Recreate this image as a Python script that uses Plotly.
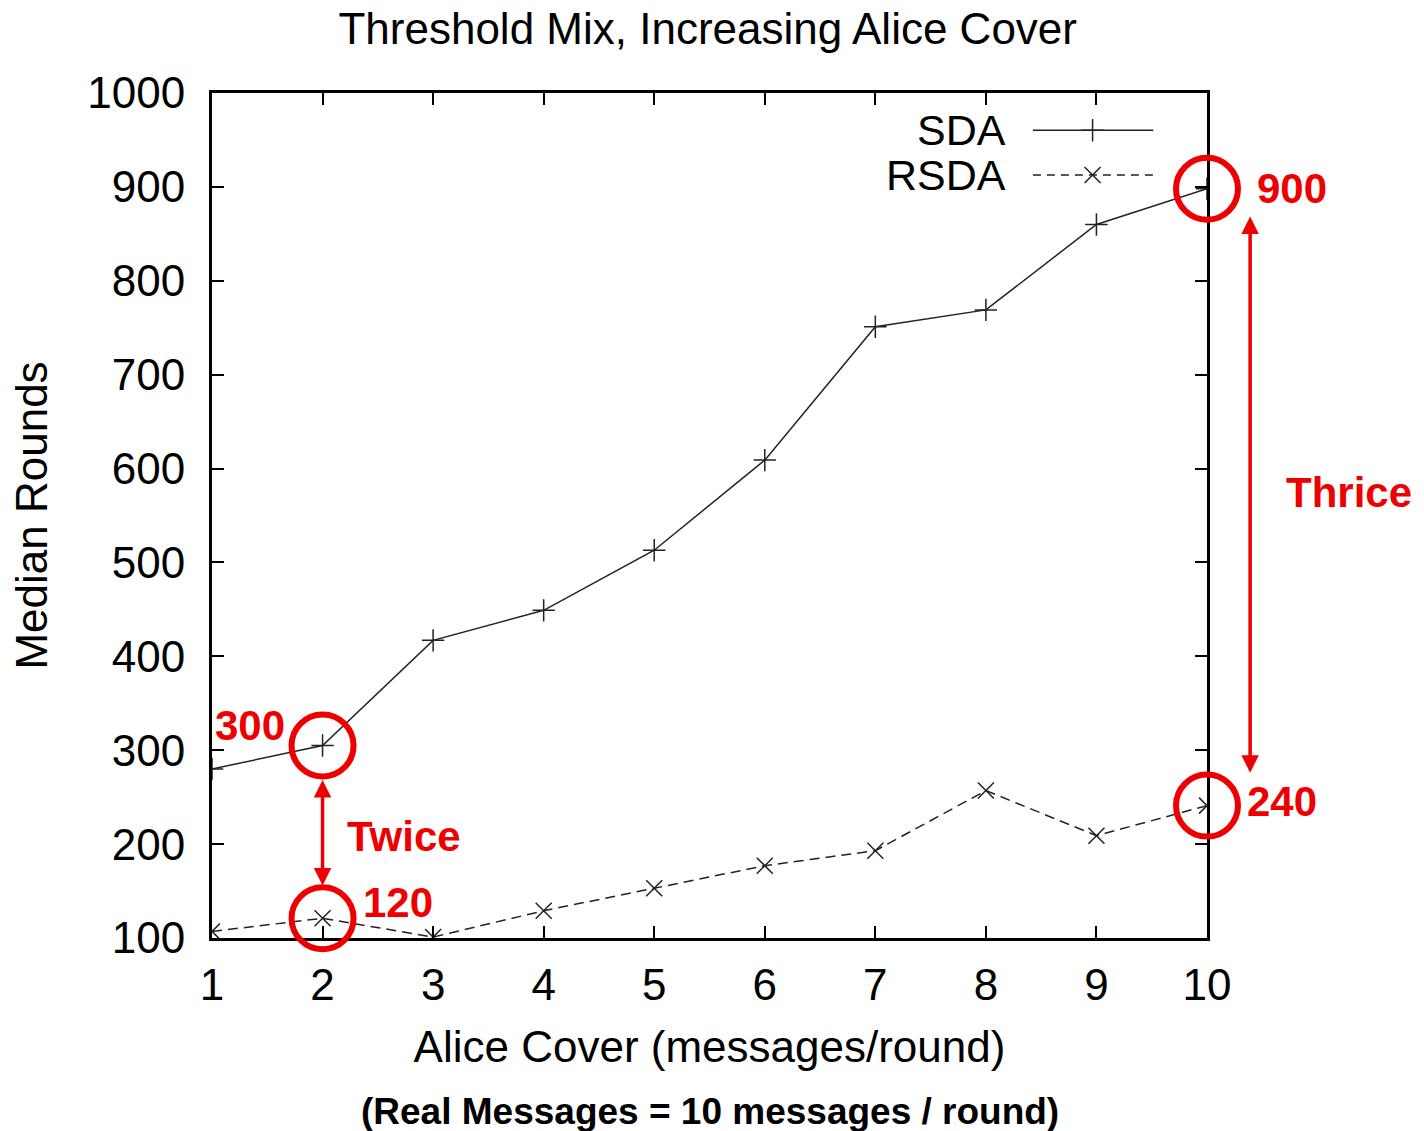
import plotly.graph_objects as go

# ---- data ----
cover = [1, 2, 3, 4, 5, 6, 7, 8, 9, 10]
sda = [280, 305, 417, 449, 513, 609, 751, 769, 860, 898]
rsda = [107, 121, 101, 129, 153, 177, 193, 257, 209, 241]
x_ticks = [1, 2, 3, 4, 5, 6, 7, 8, 9, 10]
y_ticks = [100, 200, 300, 400, 500, 600, 700, 800, 900, 1000]
X_RANGE = [1, 10]
Y_RANGE = [100, 1000]

# highlighted points (x, y, label)
hl_x = [2, 2, 10, 10]
hl_y = [305, 121, 898, 241]
hl_labels = ["300", "120", "900", "240"]

RED = "#ee0000"
INK = "#222222"
FONT = "Liberation Sans, Arial, sans-serif"
FS = 44
RFS = 42


def px(v):
    return (v - X_RANGE[0]) / (X_RANGE[1] - X_RANGE[0])


def py(v):
    return (v - Y_RANGE[0]) / (Y_RANGE[1] - Y_RANGE[0])


fig = go.Figure()

fig.add_trace(go.Scatter(
    x=cover, y=sda, mode="lines+markers", name="SDA",
    line=dict(color=INK, width=1.5),
    marker=dict(symbol="cross-thin-open", size=16, color=INK, line=dict(color=INK, width=1.5)),
    showlegend=False,
))
fig.add_trace(go.Scatter(
    x=cover, y=rsda, mode="lines+markers", name="RSDA",
    line=dict(color=INK, width=1.5, dash="10px,6px"),
    marker=dict(symbol="x-thin-open", size=16, color=INK, line=dict(color=INK, width=1.5)),
    showlegend=False,
))

# gnuplot-style legend (text left, sample right) on an overlay axis [0,1]
leg_names = ["SDA", "RSDA"]
leg_y = [0.956, 0.903]
leg_dash = ["solid", "8px,6px"]
leg_sym = ["cross-thin-open", "x-thin-open"]
for name, ly, dsh, sym in zip(leg_names, leg_y, leg_dash, leg_sym):
    fig.add_trace(go.Scatter(
        x=[0.825, 0.946], y=[ly, ly], mode="lines", xaxis="x2", yaxis="y2",
        line=dict(color=INK, width=1.5, dash=dsh), showlegend=False, hoverinfo="skip",
    ))
    fig.add_trace(go.Scatter(
        x=[0.885], y=[ly], mode="markers", xaxis="x2", yaxis="y2",
        marker=dict(symbol=sym, size=16, color=INK, line=dict(color=INK, width=1.5)),
        showlegend=False, hoverinfo="skip",
    ))
    fig.add_annotation(x=0.800, y=ly, xref="x2", yref="y2", text=name, showarrow=False,
                       xanchor="right", yanchor="middle",
                       font=dict(family=FONT, size=FS - 1, color="#000"))

# red highlight circles (paper refs so they are not clipped at the plot edge)
for hx, hy in zip(hl_x, hl_y):
    fig.add_shape(type="circle", xref="paper", yref="paper",
                  xsizemode="pixel", ysizemode="pixel",
                  xanchor=px(hx), yanchor=py(hy), x0=-31, x1=31, y0=-31, y1=31,
                  line=dict(color=RED, width=6), layer="above")

# red value labels
lab_pos = [(-36, 20, "right"), (38, 16, "left"), (48, 0, "left"), (38, 4, "left")]
for hx, hy, txt, (dx, dy, anc) in zip(hl_x, hl_y, hl_labels, lab_pos):
    fig.add_annotation(x=px(hx), y=py(hy), xref="paper", yref="paper",
                       text=f"<b>{txt}</b>", showarrow=False,
                       xshift=dx, yshift=dy, xanchor=anc, yanchor="middle",
                       font=dict(family=FONT, size=RFS, color=RED))

# double-headed arrows (x, top value, bottom value)
arrows = [(2, 270, 156), (10.39, 870, 276)]
for ax_x, y_top, y_bot in arrows:
    fig.add_annotation(x=px(ax_x), y=y_bot, xref="paper", yref="y",
                       ax=0, ay=y_top, axref="pixel", ayref="y",
                       text="", showarrow=True,
                       arrowhead=2, startarrowhead=2, arrowside="end+start",
                       arrowsize=1.0, startarrowsize=1.0, arrowwidth=3.5, arrowcolor=RED)

fig.add_annotation(x=px(2.2), y=py(208), xref="paper", yref="paper", text="<b>Twice</b>",
                   showarrow=False, xanchor="left", yanchor="middle",
                   font=dict(family=FONT, size=RFS, color=RED))
fig.add_annotation(x=px(10.7), y=py(575), xref="paper", yref="paper", text="<b>Thrice</b>",
                   showarrow=False, xanchor="left", yanchor="middle",
                   font=dict(family=FONT, size=RFS, color=RED))

fig.add_annotation(x=0.5, y=-0.205, xref="paper", yref="paper",
                   text="<b>(Real Messages = 10 messages / round)</b>", showarrow=False,
                   yanchor="middle", font=dict(family=FONT, size=37, color="#000"))

axis_common = dict(
    showline=True, linecolor="#000", linewidth=3, mirror="ticks",
    ticks="inside", ticklen=12, tickwidth=2, tickcolor="#000",
    showgrid=False, zeroline=False,
    tickfont=dict(family=FONT, size=FS, color="#000"),
)

fig.update_layout(
    width=1424, height=1131,
    margin=dict(l=212, r=217, t=93, b=193),
    plot_bgcolor="white", paper_bgcolor="white",
    title=dict(text="Threshold Mix, Increasing Alice Cover", x=0.497, xanchor="center",
               y=0.975, yanchor="middle",
               font=dict(family=FONT, size=44, color="#000")),
    xaxis=dict(range=X_RANGE, tickvals=x_ticks, ticklabelstandoff=6,
               title=dict(text="Alice Cover (messages/round)", standoff=24,
                          font=dict(family=FONT, size=FS, color="#000")),
               **axis_common),
    yaxis=dict(range=Y_RANGE, tickvals=y_ticks, ticklabelstandoff=15,
               title=dict(text="Median Rounds", standoff=26,
                          font=dict(family=FONT, size=FS, color="#000")),
               **axis_common),
    xaxis2=dict(range=[0, 1], overlaying="x", visible=False),
    yaxis2=dict(range=[0, 1], overlaying="y", visible=False),
    showlegend=False,
)

fig.write_html("out.html")
